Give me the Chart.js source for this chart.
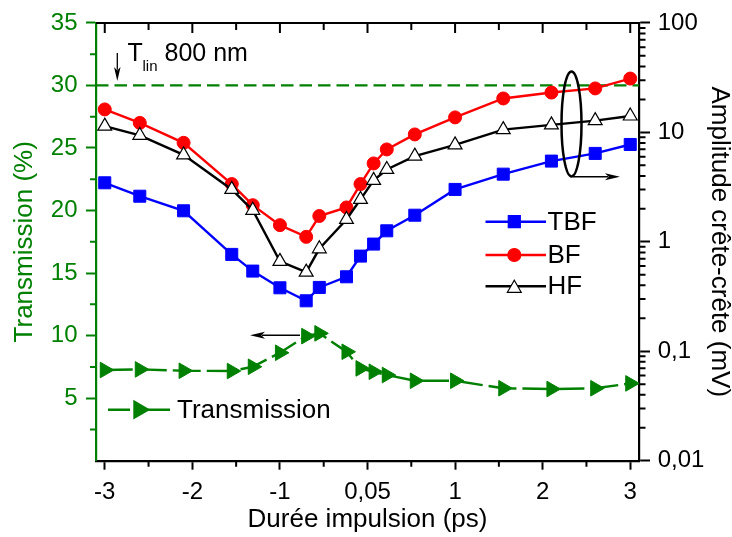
<!DOCTYPE html>
<html><head><meta charset="utf-8">
<script src="https://cdn.jsdelivr.net/npm/chart.js@4.4.1/dist/chart.umd.min.js"></script>
<style>html,body{margin:0;padding:0;background:#fff}#wrap{width:732px;height:537px}</style>
</head><body><div id="wrap"><canvas id="c" width="732" height="537"></canvas></div>
<script>
// ---- data ----
const durations = [-3.00, -2.60, -2.10, -1.55, -1.31, -1.00, -0.70, -0.55, -0.24, -0.08, 0.07, 0.22, 0.54, 1.00, 1.55, 2.10, 2.60, 3.00];
const tbf = [3.46, 2.61, 1.92, 0.767, 0.540, 0.380, 0.289, 0.383, 0.479, 0.740, 0.953, 1.26, 1.75, 3.01, 4.15, 5.46, 6.42, 7.75];
const bf  = [16.2, 12.2, 8.02, 3.37, 2.16, 1.42, 1.11, 1.72, 2.06, 3.37, 5.20, 6.98, 9.57, 13.7, 20.4, 23.1, 25.2, 31.0];
const hf  = [11.4, 9.37, 6.23, 3.01, 1.94, 0.662, 0.528, 0.863, 1.60, 2.44, 3.64, 4.58, 6.06, 7.69, 10.6, 11.7, 12.8, 14.1];
const transmission = [7.25, 7.30, 7.19, 7.17, 7.51, 8.63, 9.96, 10.18, 8.71, 7.38, 7.11, 6.85, 6.39, 6.39, 5.79, 5.73, 5.79, 6.18];
const tLin = 30;
const xRange = [-3.1, 3.1];
const xTicks = [-3, -2, -1, 0, 1, 2, 3];
const xTickLabels = ['-3', '-2', '-1', '0,05', '1', '2', '3'];
const xMinor = [-2.5, -1.5, -0.5, 0.5, 1.5, 2.5];
const leftTicks = [5, 10, 15, 20, 25, 30, 35];
const leftMinor = [2.5, 7.5, 12.5, 17.5, 22.5, 27.5, 32.5];
const rightTicks = [0.01, 0.1, 1, 10, 100];
const rightTickLabels = ['0,01', '0,1', '1', '10', '100'];
const rightMinor = [];
[0.01, 0.1, 1, 10].forEach(d => { for (let k = 2; k <= 9; k++) rightMinor.push(d * k); });

const GREEN = '#008000';
const FONT = "'Liberation Sans', Arial, sans-serif";
Chart.defaults.font.family = FONT;

const pts = arr => durations.map((x, i) => ({x: x, y: arr[i]}));

function arrow(ctx, x1, y1, x2, y2, hl, hw) {
  const a = Math.atan2(y2 - y1, x2 - x1);
  ctx.beginPath(); ctx.moveTo(x1, y1);
  ctx.lineTo(x2 - Math.cos(a) * hl * 0.8, y2 - Math.sin(a) * hl * 0.8); ctx.stroke();
  ctx.beginPath();
  ctx.moveTo(x2, y2);
  ctx.lineTo(x2 - Math.cos(a) * hl - Math.sin(a) * hw / 2, y2 - Math.sin(a) * hl + Math.cos(a) * hw / 2);
  ctx.lineTo(x2 - Math.cos(a) * hl * 0.75, y2 - Math.sin(a) * hl * 0.75);
  ctx.lineTo(x2 - Math.cos(a) * hl + Math.sin(a) * hw / 2, y2 - Math.sin(a) * hl - Math.cos(a) * hw / 2);
  ctx.closePath(); ctx.fill();
}

const framePlugin = {
  id: 'frame',
  beforeDatasetsDraw(chart) {
    const ctx = chart.ctx, a = chart.chartArea;
    const sx = chart.scales.x, sy = chart.scales.y, sr = chart.scales.y2;
    ctx.save();
    ctx.lineWidth = 2; ctx.strokeStyle = '#000';
    // top frame
    ctx.beginPath(); ctx.moveTo(a.left, a.top); ctx.lineTo(a.right + 1, a.top); ctx.stroke();
    // top inward ticks
    ctx.beginPath();
    xTicks.forEach(v => { const p = sx.getPixelForValue(v); ctx.moveTo(p, a.top); ctx.lineTo(p, a.top + 10); });
    xMinor.forEach(v => { const p = sx.getPixelForValue(v); ctx.moveTo(p, a.top); ctx.lineTo(p, a.top + 7); });
    ctx.stroke();
    // bottom minor ticks
    ctx.beginPath();
    xMinor.forEach(v => { const p = sx.getPixelForValue(v); ctx.moveTo(p, a.bottom); ctx.lineTo(p, a.bottom + 6); });
    ctx.stroke();
    // right minor ticks
    ctx.beginPath();
    rightMinor.forEach(v => { const p = sr.getPixelForValue(v); ctx.moveTo(a.right, p); ctx.lineTo(a.right + 6.5, p); });
    ctx.stroke();
    // left minor ticks
    ctx.strokeStyle = GREEN;
    ctx.beginPath();
    leftMinor.forEach(v => { const p = sy.getPixelForValue(v); ctx.moveTo(a.left, p); ctx.lineTo(a.left - 6, p); });
    ctx.stroke();
    ctx.restore();
  },
  afterDatasetsDraw(chart) {
    const ctx = chart.ctx;
    const dp = Chart.helpers.drawPoint;
    ctx.save();
    ctx.textBaseline = 'alphabetic'; ctx.textAlign = 'left';
    // T_lin 800 nm annotation
    ctx.fillStyle = '#000'; ctx.strokeStyle = '#000'; ctx.lineWidth = 1.3;
    arrow(ctx, 117.3, 53, 117.3, 81, 14, 6.5);
    ctx.font = '25px ' + FONT;
    ctx.fillText('T', 127.5, 61);
    ctx.font = '15px ' + FONT;
    ctx.fillText('lin', 142.5, 70.5);
    ctx.font = '25px ' + FONT;
    ctx.fillText('800 nm', 164.5, 61);
    // ellipse and arrow to right axis
    ctx.lineWidth = 2.5;
    ctx.beginPath(); ctx.ellipse(571.5, 124, 10, 52.5, 0, 0, Math.PI * 2); ctx.stroke();
    ctx.lineWidth = 1.4;
    arrow(ctx, 573, 176.7, 620, 176.7, 15, 7);
    // arrow to left axis
    arrow(ctx, 300, 335.3, 250, 335.3, 15, 7);
    // legend TBF / BF / HF
    const legend = [
      {t: 'TBF', y: 221.7, line: '#0000ff', style: 'rect', r: 8.5, fill: '#0000ff', stroke: '#0000ff'},
      {t: 'BF', y: 255, line: '#ff0000', style: 'circle', r: 6.5, fill: '#ff0000', stroke: '#ff0000'},
      {t: 'HF', y: 286.3, line: '#000', style: 'triangle', r: 8, fill: '#fff', stroke: '#000'}
    ];
    legend.forEach(l => {
      ctx.strokeStyle = l.line; ctx.lineWidth = 2.4;
      ctx.beginPath(); ctx.moveTo(485.5, l.y); ctx.lineTo(546, l.y); ctx.stroke();
      ctx.fillStyle = l.fill; ctx.strokeStyle = l.stroke; ctx.lineWidth = 1.2;
      dp(ctx, {pointStyle: l.style, radius: l.r, rotation: 0, borderWidth: 1.2}, 514.3, l.style === 'triangle' ? l.y + 2 : l.y);
      ctx.fillStyle = '#000'; ctx.font = '26px ' + FONT; ctx.textBaseline = 'middle';
      ctx.fillText(l.t, 547.5, l.y + 1);
    });
    // Transmission legend
    ctx.strokeStyle = GREEN; ctx.lineWidth = 2.4;
    ctx.beginPath(); ctx.moveTo(108, 409.7); ctx.lineTo(130, 409.7); ctx.moveTo(134, 409.7); ctx.lineTo(170, 409.7); ctx.stroke();
    ctx.fillStyle = GREEN; ctx.strokeStyle = GREEN;
    dp(ctx, {pointStyle: 'triangle', radius: 9, rotation: 90, borderWidth: 1}, 139, 409.7);
    ctx.fillStyle = '#000'; ctx.font = '26px ' + FONT; ctx.textBaseline = 'middle';
    ctx.fillText('Transmission', 177, 410.5);
    ctx.restore();
  }
};

new Chart(document.getElementById('c'), {
  type: 'line',
  data: {
    datasets: [
      {label: 'HF', data: pts(hf), yAxisID: 'y2', borderColor: '#000', borderWidth: 2.4, pointStyle: 'triangle', pointRadius: 8, pointBackgroundColor: '#fff', pointBorderColor: '#000', pointBorderWidth: 1.2, order: 0},
      {label: 'BF', data: pts(bf), yAxisID: 'y2', borderColor: '#ff0000', borderWidth: 2.4, pointStyle: 'circle', pointRadius: 6.5, pointBackgroundColor: '#ff0000', pointBorderColor: '#ff0000', pointBorderWidth: 1, order: 1},
      {label: 'TBF', data: pts(tbf), yAxisID: 'y2', borderColor: '#0000ff', borderWidth: 2.4, pointStyle: 'rect', pointRadius: 8.5, pointBackgroundColor: '#0000ff', pointBorderColor: '#0000ff', pointBorderWidth: 1, order: 2},
      {label: 'Transmission', data: pts(transmission), yAxisID: 'y', borderColor: GREEN, borderWidth: 2.4, borderDash: [28, 6], pointStyle: 'triangle', pointRotation: 90, pointRadius: 9, pointBackgroundColor: GREEN, pointBorderColor: GREEN, pointBorderWidth: 1, order: 3},
      {label: 'Tlin', data: [{x: xRange[0], y: tLin}, {x: xRange[1], y: tLin}], yAxisID: 'y', borderColor: GREEN, borderWidth: 2.2, borderDash: [12.5, 6], pointRadius: 0, order: 4}
    ]
  },
  options: {
    responsive: false, animation: false, devicePixelRatio: 1,
    layout: {padding: {top: 22.7, left: 0, right: 0, bottom: 0}},
    plugins: {legend: {display: false}, tooltip: {enabled: false}},
    elements: {line: {tension: 0}},
    scales: {
      x: {
        type: 'linear', position: 'bottom', min: xRange[0], max: xRange[1], bounds: 'data',
        afterBuildTicks: s => { s.ticks = xTicks.map(v => ({value: v})); },
        afterFit: s => { s.height = 76.3; },
        ticks: {autoSkip: false, maxRotation: 0, color: '#000', font: {size: 24}, padding: 8.5,
          callback: v => xTickLabels[xTicks.indexOf(v)]},
        grid: {drawOnChartArea: false, drawTicks: true, tickLength: 9, tickWidth: 2, tickColor: '#000'},
        border: {display: true, color: '#000', width: 2.2},
        title: {display: true, text: 'Durée impulsion (ps)', color: '#000', font: {size: 26}, padding: {top: 0, bottom: 1.5}}
      },
      y: {
        type: 'linear', position: 'left', min: 0, max: 35, bounds: 'data',
        afterBuildTicks: s => { s.ticks = leftTicks.map(v => ({value: v})); },
        afterFit: s => { s.width = 96; },
        ticks: {autoSkip: false, color: GREEN, font: {size: 24}, padding: 8.5},
        grid: {drawOnChartArea: false, drawTicks: true, tickLength: 10, tickWidth: 2, tickColor: GREEN},
        border: {display: true, color: GREEN, width: 2.2},
        title: {display: true, text: 'Transmission (%)', color: GREEN, font: {size: 26}, padding: {top: 9.7, bottom: 0}}
      },
      y2: {
        type: 'logarithmic', position: 'right', min: 0.01, max: 100, bounds: 'data',
        afterBuildTicks: s => { s.ticks = rightTicks.map(v => ({value: v})); },
        afterFit: s => { s.width = 93; },
        ticks: {autoSkip: false, color: '#000', font: {size: 24}, padding: 7.7,
          callback: v => rightTickLabels[rightTicks.indexOf(v)]},
        grid: {drawOnChartArea: false, drawTicks: true, tickLength: 11, tickWidth: 2, tickColor: '#000'},
        border: {display: true, color: '#000', width: 2.2},
        title: {display: true, text: 'Amplitude crête-crête (mV)', color: '#000', font: {size: 26, lineHeight: 1}, padding: {top: 0, bottom: 0}}
      }
    }
  },
  plugins: [framePlugin]
});
</script>
</body></html>
